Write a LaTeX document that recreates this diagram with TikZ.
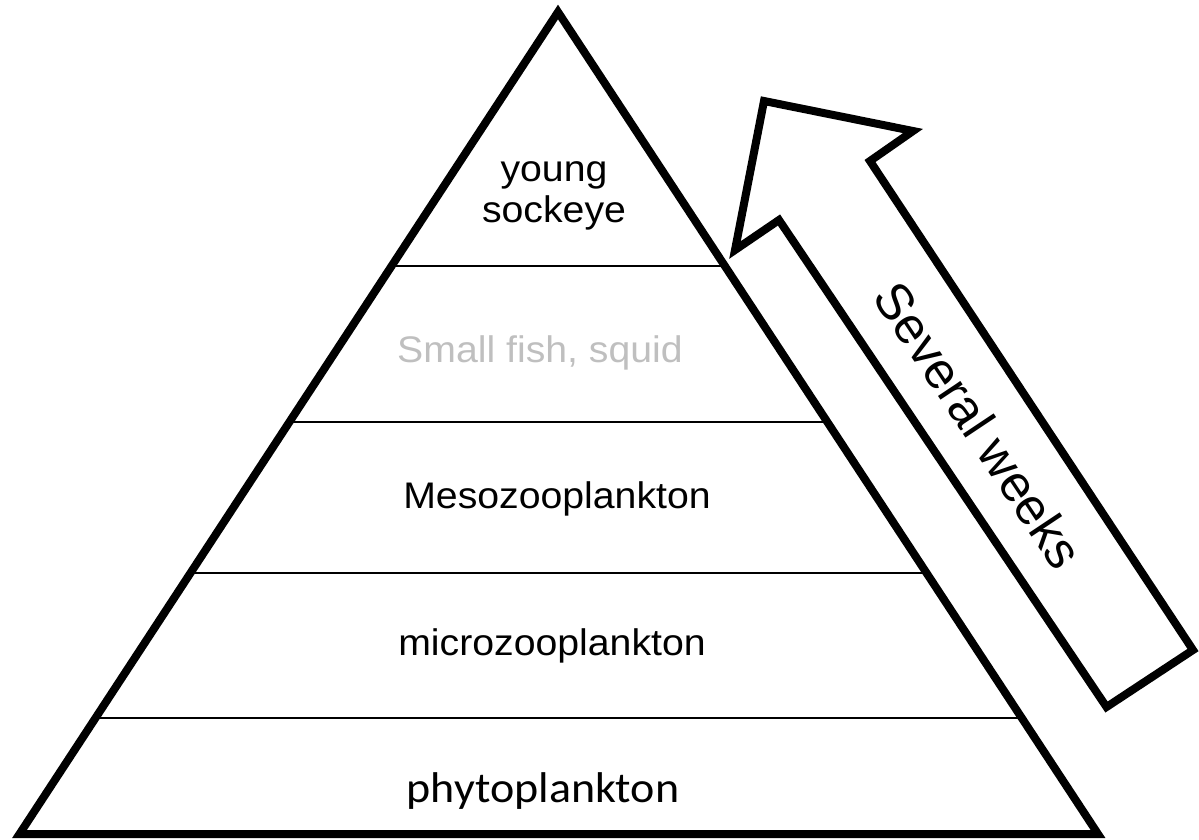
\documentclass[tikz,border=0pt]{standalone}
\usepackage{fontspec}
\setmainfont{Liberation Sans}
\newfontfamily\arialw[FakeStretch=1.06]{Liberation Sans}
\newfontfamily\calw[FakeStretch=1.07]{Carlito}
\usetikzlibrary{calc}
\definecolor{lightgraytext}{HTML}{BFBFBF}
\begin{document}
\begin{tikzpicture}[x=1pt,y=-1pt,
  tri/.style={line width=8pt, line join=miter, miter limit=20},
  level/.style={line width=1.3pt, black},
  lbl/.style={font=\arialw\fontsize{37}{42}\selectfont, anchor=base, inner sep=0pt},
  biglbl/.style={font=\calw\fontsize{43}{48}\selectfont, anchor=base, inner sep=0pt},
  arrowlbl/.style={font=\fontsize{51}{56}\selectfont, inner sep=0pt, rotate=-56.3}]
\useasboundingbox (0,0) rectangle (1199,839);
% triangle corners
\coordinate (A) at (558,12);
\coordinate (B) at (19.5,834);
\coordinate (C) at (1098,834);
% level lines
\foreach \t/\n in {0.309/1,0.4988/2,0.6825/3,0.8589/4}{
  \coordinate (L\n) at ($(A)!\t!(B)$);
  \coordinate (R\n) at ($(A)!\t!(C)$);
  \draw[level] (L\n) -- (R\n);
}
\draw[tri] (A) -- (B) -- (C) -- cycle;
% labels
\node[lbl] (young) at (554,181) {young};
\node[lbl] (sockeye) at (554,222) {sockeye};
\node[lbl, text=lightgraytext] (fish) at (540,362) {Small fish, squid};
\node[lbl] (meso) at (557,508) {Mesozooplankton};
\node[lbl] (micro) at (552,655) {microzooplankton};
\node[biglbl] (phyto) at (543,802) {phytoplankton};
% arrow
\coordinate (tip) at (764,101);
\coordinate (rb) at (913,131);
\coordinate (rn) at (870,161);
\coordinate (br) at (1193,650);
\coordinate (bl) at (1106.5,707);
\coordinate (ln) at (779,220);
\coordinate (lb) at (735,250);
\draw[tri] (tip) -- (rb) -- (rn) -- (br) -- (bl) -- (ln) -- (lb) -- cycle;
\node[arrowlbl] (weeks) at (979,425) {Several weeks};
\end{tikzpicture}
\end{document}
